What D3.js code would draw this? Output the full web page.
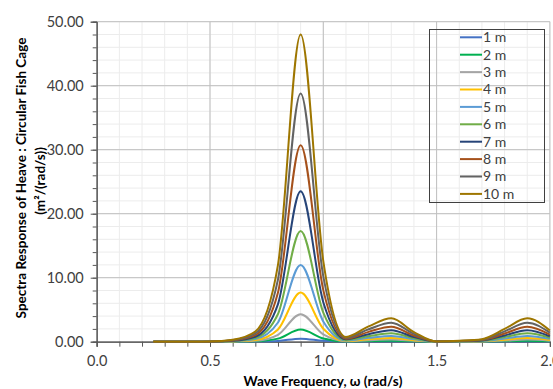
<!DOCTYPE html>
<html lang="en">
<head>
<meta charset="utf-8">
<title>Heave spectra</title>
<script src="https://d3js.org/d3.v7.min.js"></script>
<style>
  body, html { margin: 0; background: #fff; }
  svg { display: block; font-family: Lato, "Open Sans", sans-serif; }
</style>
</head>
<body>
<svg width="553" height="389"></svg>
<script>
// wave frequency (rad/s)
var freq = [0.25, 0.3, 0.4, 0.5, 0.6, 0.7, 0.8, 0.9, 1.0, 1.1, 1.2, 1.3, 1.4, 1.5, 1.6, 1.7, 1.8, 1.9, 2.0];

var labels = ["1 m", "2 m", "3 m", "4 m", "5 m", "6 m", "7 m", "8 m", "9 m", "10 m"];
var colors = ["#4472C4", "#00B050", "#A5A5A5", "#FFC000", "#5B9BD5", "#70AD47", "#264478", "#A5511B", "#636363", "#9E7600"];

var s1m  = [0, 0, 0, 0, 0, 0.02, 0.12, 0.48, 0.13, 0.01, 0.02, 0.04, 0.02, 0, 0, 0, 0.02, 0.04, 0.02];
var s2m  = [0, 0, 0, 0, 0.01, 0.06, 0.48, 1.9, 0.5, 0.03, 0.1, 0.15, 0.06, 0, 0.01, 0.02, 0.08, 0.15, 0.07];
var s3m  = [0, 0, 0, 0, 0.03, 0.14, 1.08, 4.3, 1.13, 0.07, 0.22, 0.33, 0.14, 0, 0.01, 0.04, 0.18, 0.33, 0.16];
var s4m  = [0, 0, 0, 0, 0.05, 0.26, 1.92, 7.68, 2.02, 0.12, 0.38, 0.58, 0.24, 0.01, 0.02, 0.06, 0.32, 0.58, 0.28];
var s5m  = [0, 0, 0, 0.01, 0.08, 0.4, 3.0, 12.0, 3.15, 0.19, 0.6, 0.91, 0.38, 0.01, 0.04, 0.1, 0.5, 0.91, 0.44];
var s6m  = [0, 0, 0, 0.01, 0.11, 0.58, 4.32, 17.3, 4.54, 0.27, 0.86, 1.31, 0.54, 0.02, 0.05, 0.14, 0.72, 1.31, 0.63];
var s7m  = [0, 0, 0, 0.01, 0.15, 0.78, 5.88, 23.5, 6.17, 0.37, 1.18, 1.79, 0.74, 0.02, 0.07, 0.2, 0.98, 1.79, 0.86];
var s8m  = [0, 0, 0, 0.01, 0.19, 1.02, 7.68, 30.7, 8.06, 0.48, 1.54, 2.34, 0.96, 0.03, 0.1, 0.26, 1.28, 2.34, 1.12];
var s9m  = [0, 0, 0, 0.02, 0.24, 1.3, 9.72, 38.8, 10.2, 0.61, 1.94, 2.96, 1.22, 0.04, 0.12, 0.32, 1.62, 2.96, 1.42];
var s10m = [0, 0, 0, 0.02, 0.3, 1.6, 12.0, 48.0, 12.6, 0.75, 2.4, 3.65, 1.5, 0.05, 0.15, 0.4, 2.0, 3.65, 1.75];

var series = [s1m, s2m, s3m, s4m, s5m, s6m, s7m, s8m, s9m, s10m];

var xMajor = [0, 0.5, 1.0, 1.5, 2.0];
var yMajor = [0, 10, 20, 30, 40, 50];

var svg = d3.select("svg");
var x = d3.scaleLinear().domain([0, 2]).range([96.7, 549.9]);
var y = d3.scaleLinear().domain([0, 50]).range([341.7, 21.7]);

var xMinor = d3.range(0, 2.001, 0.1);
var yMinor = d3.range(0, 50.001, 2);

// minor grid
var grid = svg.append("g");
grid.selectAll(".vmin").data(xMinor).enter().append("line")
    .attr("x1", d => x(d)).attr("x2", d => x(d))
    .attr("y1", y(0)).attr("y2", y(50))
    .attr("stroke", "#ececec").attr("stroke-width", 1);
grid.selectAll(".hmin").data(yMinor).enter().append("line")
    .attr("x1", x(0)).attr("x2", x(2))
    .attr("y1", d => y(d)).attr("y2", d => y(d))
    .attr("stroke", "#ececec").attr("stroke-width", 1);
// major grid
grid.selectAll(".vmaj").data(xMajor).enter().append("line")
    .attr("x1", d => x(d)).attr("x2", d => x(d))
    .attr("y1", y(0)).attr("y2", y(50))
    .attr("stroke", "#bfbfbf").attr("stroke-width", 1);
grid.selectAll(".hmaj").data(yMajor).enter().append("line")
    .attr("x1", x(0)).attr("x2", x(2))
    .attr("y1", d => y(d)).attr("y2", d => y(d))
    .attr("stroke", "#bfbfbf").attr("stroke-width", 1);

// axes
svg.append("g").attr("transform", "translate(" + x(0) + ",0)")
    .call(d3.axisLeft(y).tickValues(yMinor).tickSize(4).tickFormat(""));
svg.append("g").attr("transform", "translate(" + x(0) + ",0)")
    .call(d3.axisLeft(y).tickValues(yMajor).tickSize(6).tickPadding(7).tickFormat(d3.format(".2f")));
svg.append("g").attr("transform", "translate(0," + y(0) + ")")
    .call(d3.axisBottom(x).tickValues(xMinor).tickSize(5).tickFormat(""));
svg.append("g").attr("transform", "translate(0," + y(0) + ")")
    .call(d3.axisBottom(x).tickValues(xMajor).tickSize(5).tickPadding(9).tickFormat(d3.format(".1f")));

svg.selectAll(".domain").attr("stroke", "#595959");
svg.selectAll(".tick line").attr("stroke", "#595959");
svg.selectAll(".tick text").attr("font-family", "Lato, sans-serif").attr("font-size", 14.5).attr("fill", "#404040");

// lines
var line = d3.line()
    .x((d, i) => x(freq[i]))
    .y(d => y(d))
    .curve(d3.curveMonotoneX);

svg.append("defs").append("clipPath").attr("id", "plot")
  .append("rect").attr("x", x(0)).attr("y", 0).attr("width", x(2) - x(0) + 3).attr("height", y(0) + 1);

svg.append("g").attr("clip-path", "url(#plot)")
  .selectAll("path").data(series).enter().append("path")
    .attr("d", line)
    .attr("fill", "none")
    .attr("stroke", (d, i) => colors[i])
    .attr("stroke-width", 2);

// legend
var legend = svg.append("g");
legend.append("rect")
    .attr("x", 429.5).attr("y", 29.5).attr("width", 115).attr("height", 173)
    .attr("fill", "none").attr("stroke", "#404040").attr("stroke-width", 1);
var rows = legend.selectAll(".row").data(labels).enter().append("g")
    .attr("transform", (d, i) => "translate(0," + (37.3 + i * 17.4) + ")");
rows.append("line").attr("x1", 460).attr("x2", 482).attr("y1", 0).attr("y2", 0)
    .attr("stroke", (d, i) => colors[i]).attr("stroke-width", 2);
rows.append("text").attr("x", 483).attr("y", 0).attr("dy", "0.35em")
    .attr("font-size", 14).attr("fill", "#404040").text(d => d);

// axis titles
svg.append("text")
    .attr("transform", "translate(26,178) rotate(-90)")
    .attr("text-anchor", "middle").attr("font-weight", "bold").attr("font-size", 13.5)
    .attr("fill", "#000")
    .text("Spectra Response of Heave : Circular Fish Cage");
svg.append("text")
    .attr("transform", "translate(45,181) rotate(-90)")
    .attr("text-anchor", "middle").attr("font-weight", "bold").attr("font-size", 13.5)
    .attr("fill", "#000")
    .text("(m²/(rad/s))");
svg.append("text")
    .attr("x", 323).attr("y", 386)
    .attr("text-anchor", "middle").attr("font-weight", "bold").attr("font-size", 13.5)
    .attr("fill", "#000")
    .text("Wave Frequency, ω (rad/s)");
</script>
</body>
</html>
